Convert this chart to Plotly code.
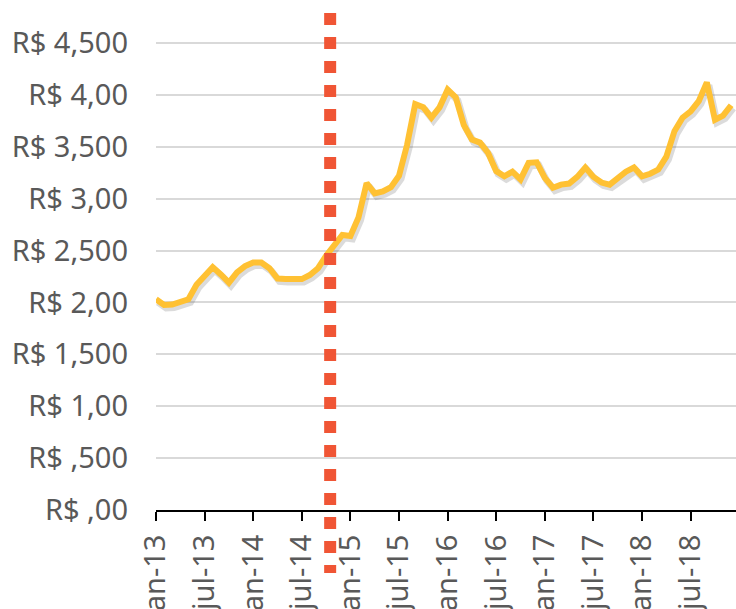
import plotly.graph_objects as go

# Monthly USD/BRL rate (1000 = R$ 1,00), Jan-2013 .. Dec-2018
months = ["jan", "fev", "mar", "abr", "mai", "jun", "jul", "ago", "set", "out", "nov", "dez"]
years = ["13", "14", "15", "16", "17", "18"]
month_labels = [f"{m}-{y}" for y in years for m in months]

usd_brl = [
    2030, 1975, 1980, 2000, 2030, 2170, 2250, 2340, 2270, 2190, 2290, 2350,
    2385, 2385, 2330, 2230, 2225, 2230, 2225, 2265, 2330, 2450, 2550, 2650,
    2640, 2820, 3150, 3050, 3070, 3110, 3220, 3520, 3910, 3880, 3780, 3880,
    4050, 3975, 3710, 3570, 3540, 3440, 3265, 3215, 3260, 3185, 3345, 3350,
    3200, 3105, 3135, 3145, 3210, 3300, 3210, 3155, 3135, 3195, 3260, 3300,
    3215, 3240, 3280, 3405, 3650, 3780, 3840, 3940, 4120, 3760, 3800, 3900,
]

y_tickvals = [0, 500, 1000, 1500, 2000, 2500, 3000, 3500, 4000, 4500]
y_ticktext = ["R$ ,00", "R$ ,500", "R$ 1,00", "R$ 1,500", "R$ 2,00",
              "R$ 2,500", "R$ 3,00", "R$ 3,500", "R$ 4,00", "R$ 4,500"]

x_tick_labels = ["jan-13", "jul-13", "jan-14", "jul-14", "jan-15", "jul-15",
                 "jan-16", "jul-16", "jan-17", "jul-17", "jan-18", "jul-18"]

event_month = 21.5  # between out-14 and nov-14

x_idx = list(range(len(usd_brl)))
x_tickvals = [month_labels.index(l) for l in x_tick_labels]

fig = go.Figure()

# soft shadow of the line
fig.add_trace(go.Scatter(
    x=[i + 0.25 for i in x_idx], y=[v - 28 for v in usd_brl],
    mode="lines", line=dict(color="rgba(90,90,90,0.22)", width=7),
    hoverinfo="skip", showlegend=False,
))
fig.add_trace(go.Scatter(
    x=x_idx, y=usd_brl, mode="lines",
    line=dict(color="#FFC133", width=6),
    text=month_labels, showlegend=False,
))

fig.add_shape(
    type="line", xref="x", yref="paper",
    x0=event_month, x1=event_month,
    y0=(510 - 13) / 510, y1=(510 - 573) / 510,
    line=dict(color="#F05535", width=12, dash="dot"),
    layer="above",
)

tick_font = dict(family="Noto Sans", size=29, color="#595959")

fig.update_layout(
    width=736, height=609,
    margin=dict(l=156, r=0, t=0, b=99, autoexpand=False),
    paper_bgcolor="white", plot_bgcolor="white",
    xaxis=dict(
        range=[0, 71.6], automargin=False,
        tickvals=x_tickvals, ticktext=x_tick_labels,
        tickangle=-90, ticks="outside", ticklen=9, tickwidth=1.5, tickcolor="black",
        showline=True, linecolor="black", linewidth=2,
        showgrid=False, zeroline=False,
        tickfont=tick_font, ticklabelstandoff=2,
    ),
    yaxis=dict(
        range=[0, 4914], automargin=False,
        tickvals=y_tickvals, ticktext=y_ticktext,
        showgrid=True, gridcolor="#D9D9D9", gridwidth=1.5,
        zeroline=False, showline=False, ticks="",
        tickfont=tick_font, ticklabelstandoff=27,
    ),
)

fig.write_html(
    "out.html",
    config={"displayModeBar": False},
    post_script="document.body.style.margin='0';document.body.style.overflow='hidden';",
)
